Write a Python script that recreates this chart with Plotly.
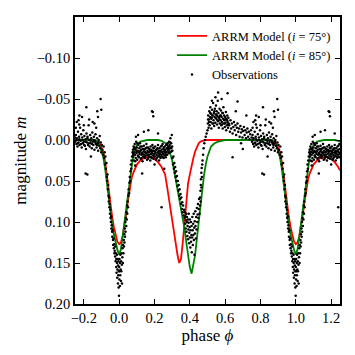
import plotly.graph_objects as go

# model light curves over one period (phase 0..1)
model_phase = [0.00, 0.01, 0.02, 0.03, 0.04, 0.05, 0.06, 0.07, 0.08, 0.09, 0.10,
               0.12, 0.14, 0.16, 0.18, 0.20, 0.22, 0.24, 0.25, 0.26,
               0.27, 0.28, 0.29, 0.30, 0.31, 0.32, 0.33, 0.34, 0.35, 0.36, 0.37, 0.38,
               0.39, 0.40, 0.41, 0.42, 0.43, 0.44, 0.45, 0.46, 0.47, 0.48, 0.49, 0.50,
               0.52, 0.54, 0.56, 0.58, 0.60, 0.65, 0.70, 0.75, 0.80, 0.84,
               0.86, 0.87, 0.88, 0.89, 0.90, 0.91, 0.92, 0.93, 0.94, 0.95, 0.96, 0.97,
               0.98, 0.99, 1.00]
red_mag = [0.127, 0.125, 0.117, 0.105, 0.090, 0.074, 0.058, 0.047, 0.040, 0.034, 0.030,
           0.025, 0.022, 0.021, 0.021, 0.023, 0.027, 0.033, 0.037, 0.042,
           0.055, 0.070, 0.086, 0.100, 0.113, 0.127, 0.140, 0.150, 0.145, 0.125, 0.100, 0.075,
           0.053, 0.042, 0.031, 0.022, 0.014, 0.008, 0.004, 0.002, 0.001, 0.000, 0.000, 0.000,
           0.000, 0.000, 0.000, 0.000, 0.000, 0.000, 0.000, 0.000, 0.000, 0.000,
           0.000, 0.001, 0.002, 0.005, 0.009, 0.015, 0.026, 0.042, 0.060, 0.078, 0.093, 0.106,
           0.117, 0.124, 0.127]
green_mag = [0.140, 0.133, 0.117, 0.100, 0.085, 0.068, 0.048, 0.030, 0.018, 0.011, 0.006,
             0.002, 0.001, 0.000, 0.000, 0.000, 0.000, 0.001, 0.002, 0.003,
             0.005, 0.010, 0.017, 0.025, 0.036, 0.048, 0.060, 0.071, 0.083, 0.095, 0.108, 0.125,
             0.143, 0.155, 0.163, 0.153, 0.140, 0.120, 0.100, 0.082, 0.060, 0.043, 0.030, 0.020,
             0.008, 0.004, 0.002, 0.001, 0.000, 0.000, 0.000, 0.000, 0.000, 0.000,
             0.000, 0.001, 0.003, 0.007, 0.013, 0.021, 0.034, 0.052, 0.072, 0.090, 0.103, 0.115,
             0.125, 0.134, 0.140]

# observations (phase, magnitude), folded into 0..1
obs_primary = [
    (0.905, 0.012), (0.910, 0.018), (0.912, 0.008), (0.915, 0.022), (0.918, 0.015), (0.920, 0.030),
    (0.922, 0.020), (0.925, 0.035), (0.928, 0.028), (0.930, 0.045), (0.932, 0.050), (0.934, 0.042),
    (0.936, 0.060), (0.938, 0.055), (0.940, 0.068), (0.941, 0.075), (0.943, 0.070), (0.945, 0.082),
    (0.946, 0.078), (0.948, 0.090), (0.950, 0.085), (0.951, 0.095), (0.953, 0.100), (0.955, 0.093),
    (0.956, 0.108), (0.958, 0.104), (0.960, 0.112), (0.961, 0.118), (0.963, 0.110), (0.965, 0.122),
    (0.966, 0.128), (0.968, 0.120), (0.970, 0.132), (0.972, 0.127), (0.973, 0.138),
    (0.975, 0.135), (0.977, 0.142), (0.978, 0.130), (0.980, 0.148), (0.981, 0.138), (0.983, 0.155),
    (0.984, 0.145), (0.985, 0.162), (0.987, 0.140), (0.988, 0.150), (0.989, 0.168), (0.990, 0.158),
    (0.992, 0.145), (0.993, 0.175), (0.994, 0.153), (0.995, 0.165), (0.996, 0.148), (0.997, 0.180),
    (0.998, 0.160), (0.999, 0.190),
    (0.000, 0.155), (0.001, 0.170), (0.002, 0.145), (0.003, 0.160), (0.004, 0.178), (0.005, 0.150),
    (0.006, 0.165), (0.007, 0.140), (0.008, 0.158), (0.010, 0.172), (0.011, 0.148), (0.012, 0.160),
    (0.014, 0.138), (0.015, 0.152), (0.016, 0.175), (0.018, 0.143), (0.019, 0.132), (0.021, 0.150),
    (0.022, 0.128), (0.024, 0.138),
    (0.026, 0.122), (0.027, 0.130), (0.029, 0.115), (0.030, 0.125), (0.032, 0.108), (0.033, 0.118),
    (0.035, 0.100), (0.036, 0.112), (0.038, 0.095), (0.040, 0.105), (0.041, 0.088), (0.043, 0.097),
    (0.045, 0.080), (0.046, 0.090), (0.048, 0.075), (0.050, 0.082), (0.052, 0.068), (0.054, 0.060),
    (0.056, 0.065), (0.058, 0.052), (0.060, 0.045), (0.062, 0.050), (0.064, 0.038), (0.066, 0.030),
    (0.068, 0.035), (0.070, 0.025), (0.073, 0.020), (0.076, 0.015),
]
obs_plateau = [
    (0.078, 0.012), (0.080, 0.020), (0.082, 0.008), (0.084, 0.025), (0.086, 0.015), (0.088, 0.005),
    (0.090, 0.018), (0.092, 0.011), (0.094, 0.022), (0.096, 0.002), (0.098, 0.016), (0.100, 0.009),
    (0.102, 0.024), (0.104, 0.013), (0.106, 0.019), (0.108, 0.006), (0.110, 0.015), (0.112, 0.021),
    (0.114, 0.010), (0.116, 0.017), (0.118, 0.004), (0.120, 0.014), (0.122, 0.023), (0.124, 0.012),
    (0.126, 0.018), (0.128, 0.008), (0.130, 0.016), (0.132, 0.026), (0.134, 0.011), (0.136, 0.020),
    (0.138, 0.014), (0.140, 0.007), (0.142, 0.018), (0.144, 0.012), (0.146, 0.022), (0.148, 0.015),
    (0.150, 0.010), (0.152, 0.019), (0.154, 0.005), (0.156, 0.016), (0.158, 0.024), (0.160, 0.013),
    (0.162, 0.018), (0.164, 0.009), (0.166, 0.021), (0.168, 0.015), (0.170, 0.011), (0.172, 0.020),
    (0.174, 0.014), (0.176, 0.025), (0.178, 0.008), (0.180, 0.017), (0.182, 0.012), (0.184, 0.022),
    (0.186, 0.016), (0.188, 0.006), (0.190, 0.019), (0.192, 0.013), (0.194, 0.023), (0.196, 0.010),
    (0.198, 0.017), (0.200, 0.014), (0.202, 0.020), (0.204, 0.008), (0.206, 0.016), (0.208, 0.024),
    (0.210, 0.012), (0.212, 0.018), (0.214, 0.011), (0.216, 0.021), (0.218, 0.015), (0.220, 0.006),
    (0.222, 0.019), (0.224, 0.013), (0.226, 0.025), (0.228, 0.010), (0.230, 0.017), (0.232, 0.014),
    (0.234, 0.022), (0.236, 0.008), (0.238, 0.018), (0.240, 0.012), (0.242, 0.020), (0.244, 0.015),
    (0.246, 0.005), (0.248, 0.017), (0.250, 0.011), (0.252, 0.022), (0.254, 0.014), (0.256, 0.019),
    (0.258, 0.008), (0.260, 0.016), (0.262, 0.012), (0.264, 0.021), (0.266, 0.006), (0.268, 0.015),
    (0.270, 0.010), (0.272, 0.018), (0.274, 0.004), (0.276, 0.013), (0.278, 0.008), (0.280, 0.016),
    (0.282, 0.002), (0.284, 0.011), (0.286, 0.006), (0.288, 0.015), (0.290, -0.002), (0.292, 0.009),
    (0.294, 0.004), (0.296, 0.014), (0.298, -0.006), (0.300, 0.008),
    (0.079, 0.017), (0.085, 0.010), (0.091, 0.026), (0.097, 0.013), (0.103, 0.004), (0.109, 0.020),
    (0.115, 0.014), (0.121, 0.008), (0.127, 0.022), (0.133, 0.017), (0.139, 0.011), (0.145, 0.020),
    (0.151, 0.016), (0.157, 0.009), (0.163, 0.023), (0.169, 0.018), (0.175, 0.012), (0.181, 0.021),
    (0.187, 0.014), (0.193, 0.009), (0.199, 0.020), (0.205, 0.013), (0.211, 0.023), (0.217, 0.010),
    (0.223, 0.016), (0.229, 0.020), (0.235, 0.014), (0.241, 0.007), (0.247, 0.021), (0.253, 0.009),
    (0.259, 0.013), (0.265, 0.018), (0.271, 0.005), (0.277, 0.012), (0.283, 0.009), (0.289, 0.003),
    (0.295, 0.010), (0.301, 0.013),
    (0.107, -0.006), (0.095, -0.004), (0.190, -0.034), (0.186, -0.035), (0.193, -0.029), (0.130, 0.041),
    (0.240, 0.082), (0.090, 0.031), (0.165, -0.012), (0.220, -0.008), (0.140, -0.010), (0.255, 0.035),
    (0.200, 0.030),
]
obs_secondary = [
    (0.302, 0.022), (0.305, 0.030), (0.307, 0.020), (0.310, 0.035), (0.312, 0.028), (0.315, 0.040),
    (0.317, 0.033), (0.320, 0.045), (0.322, 0.038), (0.325, 0.050), (0.327, 0.044), (0.330, 0.056),
    (0.332, 0.050), (0.335, 0.062), (0.337, 0.055), (0.340, 0.068), (0.342, 0.060), (0.345, 0.072),
    (0.347, 0.066), (0.350, 0.078), (0.352, 0.070), (0.355, 0.084), (0.357, 0.076), (0.360, 0.088),
    (0.362, 0.080), (0.365, 0.092), (0.367, 0.085),
    (0.370, 0.095), (0.372, 0.088), (0.374, 0.102), (0.375, 0.093), (0.377, 0.108), (0.378, 0.098),
    (0.380, 0.090), (0.381, 0.112), (0.383, 0.100), (0.384, 0.094), (0.386, 0.117), (0.387, 0.105),
    (0.389, 0.097), (0.390, 0.121), (0.392, 0.109), (0.393, 0.101), (0.394, 0.090), (0.396, 0.126),
    (0.397, 0.113), (0.399, 0.106), (0.400, 0.097), (0.401, 0.119), (0.403, 0.131), (0.404, 0.110),
    (0.406, 0.100), (0.407, 0.124), (0.409, 0.116), (0.410, 0.105), (0.411, 0.137), (0.413, 0.119),
    (0.414, 0.094), (0.416, 0.110), (0.417, 0.128), (0.419, 0.102), (0.420, 0.116), (0.422, 0.090),
    (0.423, 0.122), (0.425, 0.107), (0.426, 0.140), (0.428, 0.099), (0.429, 0.114), (0.431, 0.087),
    (0.432, 0.105), (0.434, 0.120), (0.436, 0.094), (0.438, 0.109), (0.440, 0.083), (0.442, 0.100),
    (0.444, 0.091), (0.446, 0.078), (0.448, 0.095), (0.450, 0.084), (0.452, 0.072),
    (0.455, 0.090), (0.457, 0.080), (0.458, 0.070), (0.460, 0.062), (0.461, 0.075), (0.462, 0.055),
    (0.463, 0.048), (0.465, 0.040), (0.466, 0.058), (0.467, 0.034), (0.468, 0.045), (0.470, 0.030),
    (0.472, 0.025), (0.475, 0.018), (0.478, 0.010), (0.482, 0.004), (0.486, 0.000), (0.490, -0.004),
    (0.495, -0.008),
]
obs_maximum = [
    (0.500, -0.012), (0.502, -0.020), (0.504, -0.030), (0.506, -0.015), (0.508, -0.025), (0.510, -0.035),
    (0.512, -0.018), (0.514, -0.028), (0.516, -0.040), (0.518, -0.022), (0.520, -0.032), (0.522, -0.014),
    (0.524, -0.027), (0.526, -0.037), (0.528, -0.020), (0.530, -0.030), (0.532, -0.045), (0.534, -0.024),
    (0.536, -0.033), (0.538, -0.017), (0.540, -0.028), (0.542, -0.038), (0.544, -0.021), (0.546, -0.031),
    (0.548, -0.042), (0.550, -0.026), (0.552, -0.035), (0.554, -0.019), (0.556, -0.029), (0.558, -0.048),
    (0.560, -0.023), (0.562, -0.033), (0.564, -0.015), (0.566, -0.027), (0.568, -0.038), (0.570, -0.020),
    (0.572, -0.030), (0.574, -0.024), (0.576, -0.036), (0.578, -0.018), (0.580, -0.028), (0.582, -0.022),
    (0.584, -0.033), (0.586, -0.014), (0.588, -0.026), (0.590, -0.040), (0.592, -0.020), (0.594, -0.030),
    (0.596, -0.024), (0.598, -0.016), (0.600, -0.028), (0.602, -0.021), (0.604, -0.034), (0.606, -0.012),
    (0.608, -0.025), (0.610, -0.018), (0.612, -0.030), (0.614, -0.022), (0.616, -0.015), (0.618, -0.027),
    (0.620, -0.020),
    (0.503, -0.025), (0.509, -0.022), (0.515, -0.033), (0.521, -0.026), (0.527, -0.030), (0.533, -0.020),
    (0.539, -0.035), (0.545, -0.027), (0.551, -0.031), (0.557, -0.024), (0.563, -0.028), (0.569, -0.025),
    (0.575, -0.030), (0.581, -0.019), (0.587, -0.033), (0.593, -0.025), (0.599, -0.020), (0.605, -0.026),
    (0.611, -0.024), (0.617, -0.019),
    (0.560, -0.058), (0.614, -0.057), (0.545, -0.052), (0.580, -0.050), (0.670, -0.047), (0.525, -0.048),
    (0.623, -0.018), (0.627, -0.010), (0.630, -0.024), (0.634, -0.014), (0.638, -0.020), (0.642, -0.008),
    (0.646, -0.016), (0.650, -0.022), (0.654, -0.012), (0.658, -0.018), (0.662, -0.006), (0.666, -0.015),
    (0.670, -0.020), (0.674, -0.010), (0.678, -0.014), (0.682, -0.004), (0.686, -0.017), (0.690, -0.009),
    (0.694, -0.013), (0.698, -0.003), (0.702, -0.011), (0.706, -0.016), (0.710, -0.006), (0.714, -0.012),
    (0.718, -0.002), (0.722, -0.009), (0.726, -0.014), (0.730, -0.004), (0.734, -0.010), (0.738, -0.001),
    (0.742, -0.007), (0.746, -0.012),
    (0.642, 0.021), (0.700, 0.011), (0.660, -0.035), (0.720, -0.030), (0.690, 0.004),
]
obs_pre_eclipse = [
    (0.750, -0.003), (0.752, 0.002), (0.755, -0.006), (0.758, 0.005), (0.761, -0.002), (0.764, 0.008),
    (0.767, -0.010), (0.770, 0.003), (0.773, -0.004), (0.776, 0.006), (0.779, -0.015), (0.782, 0.001),
    (0.785, -0.007), (0.788, 0.009), (0.791, -0.003), (0.794, 0.004), (0.797, -0.012), (0.800, 0.002),
    (0.803, -0.005), (0.806, 0.007), (0.809, -0.001), (0.812, 0.011), (0.815, -0.008), (0.818, 0.003),
    (0.821, -0.004), (0.824, 0.006), (0.827, -0.018), (0.830, 0.000), (0.833, 0.008), (0.836, -0.006),
    (0.839, 0.004), (0.842, -0.002), (0.845, 0.010), (0.848, -0.009), (0.851, 0.002), (0.854, 0.006),
    (0.857, -0.004), (0.860, 0.012), (0.863, 0.001), (0.866, -0.007), (0.869, 0.005), (0.872, 0.009),
    (0.875, -0.002), (0.878, 0.004), (0.881, 0.013), (0.884, 0.000), (0.887, 0.007), (0.890, -0.005),
    (0.893, 0.010), (0.896, 0.003), (0.899, 0.015), (0.902, 0.006),
    (0.757, 0.000), (0.766, 0.004), (0.775, -0.001), (0.784, 0.005), (0.793, 0.000), (0.802, 0.006),
    (0.811, 0.002), (0.820, -0.002), (0.829, 0.004), (0.838, 0.001), (0.847, 0.005), (0.856, 0.000),
    (0.865, 0.003), (0.874, 0.006), (0.883, 0.002),
    (0.774, -0.019), (0.814, -0.040), (0.876, -0.035), (0.895, -0.050), (0.899, -0.037), (0.810, 0.041),
    (0.820, 0.042), (0.770, -0.024), (0.850, -0.022), (0.840, 0.020), (0.880, -0.028), (0.760, -0.022),
    (0.790, -0.028), (0.800, -0.018), (0.830, -0.025), (0.860, -0.020), (0.870, -0.015), (0.775, -0.030),
    (0.755, -0.015),
]

x_ticks = [-0.2, 0.0, 0.2, 0.4, 0.6, 0.8, 1.0, 1.2]
y_ticks = [-0.10, -0.05, 0.00, 0.05, 0.10, 0.15, 0.20]


def extend_curve(ph, mg):
    # repeat the last and first quarter of the period on either side
    xs = [p - 1 for p in ph if p >= 0.75] + list(ph) + [p + 1 for p in ph if p <= 0.25]
    ys = [m for p, m in zip(ph, mg) if p >= 0.75] + list(mg) + [m for p, m in zip(ph, mg) if p <= 0.25]
    return xs, ys


def extend_points(points):
    xs, ys = [], []
    for p, m in points:
        xs.append(p)
        ys.append(m)
        if p >= 0.75:
            xs.append(p - 1)
            ys.append(m)
        if p <= 0.25:
            xs.append(p + 1)
            ys.append(m)
    return xs, ys


rx, ry = extend_curve(model_phase, red_mag)
gx, gy = extend_curve(model_phase, green_mag)
ox, oy = extend_points(obs_primary + obs_plateau + obs_secondary + obs_maximum + obs_pre_eclipse)

fig = go.Figure()

fig.add_trace(go.Scatter(
    x=rx, y=ry, mode='lines',
    name='ARRM Model (<i>i</i> = 75°)',
    line=dict(color='#ff0000', width=1.8)))

fig.add_trace(go.Scatter(
    x=gx, y=gy, mode='lines',
    name='ARRM Model (<i>i</i> = 85°)',
    line=dict(color='#008000', width=1.8)))

fig.add_trace(go.Scatter(
    x=ox, y=oy, mode='markers',
    name='Observations',
    marker=dict(color='black', size=2.5)))

axis_style = dict(
    showline=True, linecolor='black', linewidth=1.8, mirror='ticks',
    ticks='inside', ticklen=5, tickwidth=1, tickcolor='black',
    showgrid=False, zeroline=False,
)

# the page body has an 8px margin, so the figure is sized to fit inside it
fig.update_layout(
    width=347, height=347,
    margin=dict(l=67, r=15, t=7, b=51),
    paper_bgcolor='white', plot_bgcolor='white',
    font=dict(family='Liberation Serif', size=14.5, color='black'),
    showlegend=True,
    legend=dict(x=0.985, y=0.985, xanchor='right', yanchor='top',
                bgcolor='rgba(0,0,0,0)', font=dict(size=12.5),
                itemwidth=30, tracegroupgap=0),
    xaxis=dict(range=[-0.25, 1.25], tickvals=x_ticks, tickformat='.1f',
               title=dict(text='phase <i>ϕ</i>', standoff=0), **axis_style),
    yaxis=dict(range=[0.20, -0.15], tickvals=y_ticks, tickformat='.2f',
               title=dict(text='magnitude <i>m</i>', standoff=6), **axis_style),
)

fig.write_html("out.html")
